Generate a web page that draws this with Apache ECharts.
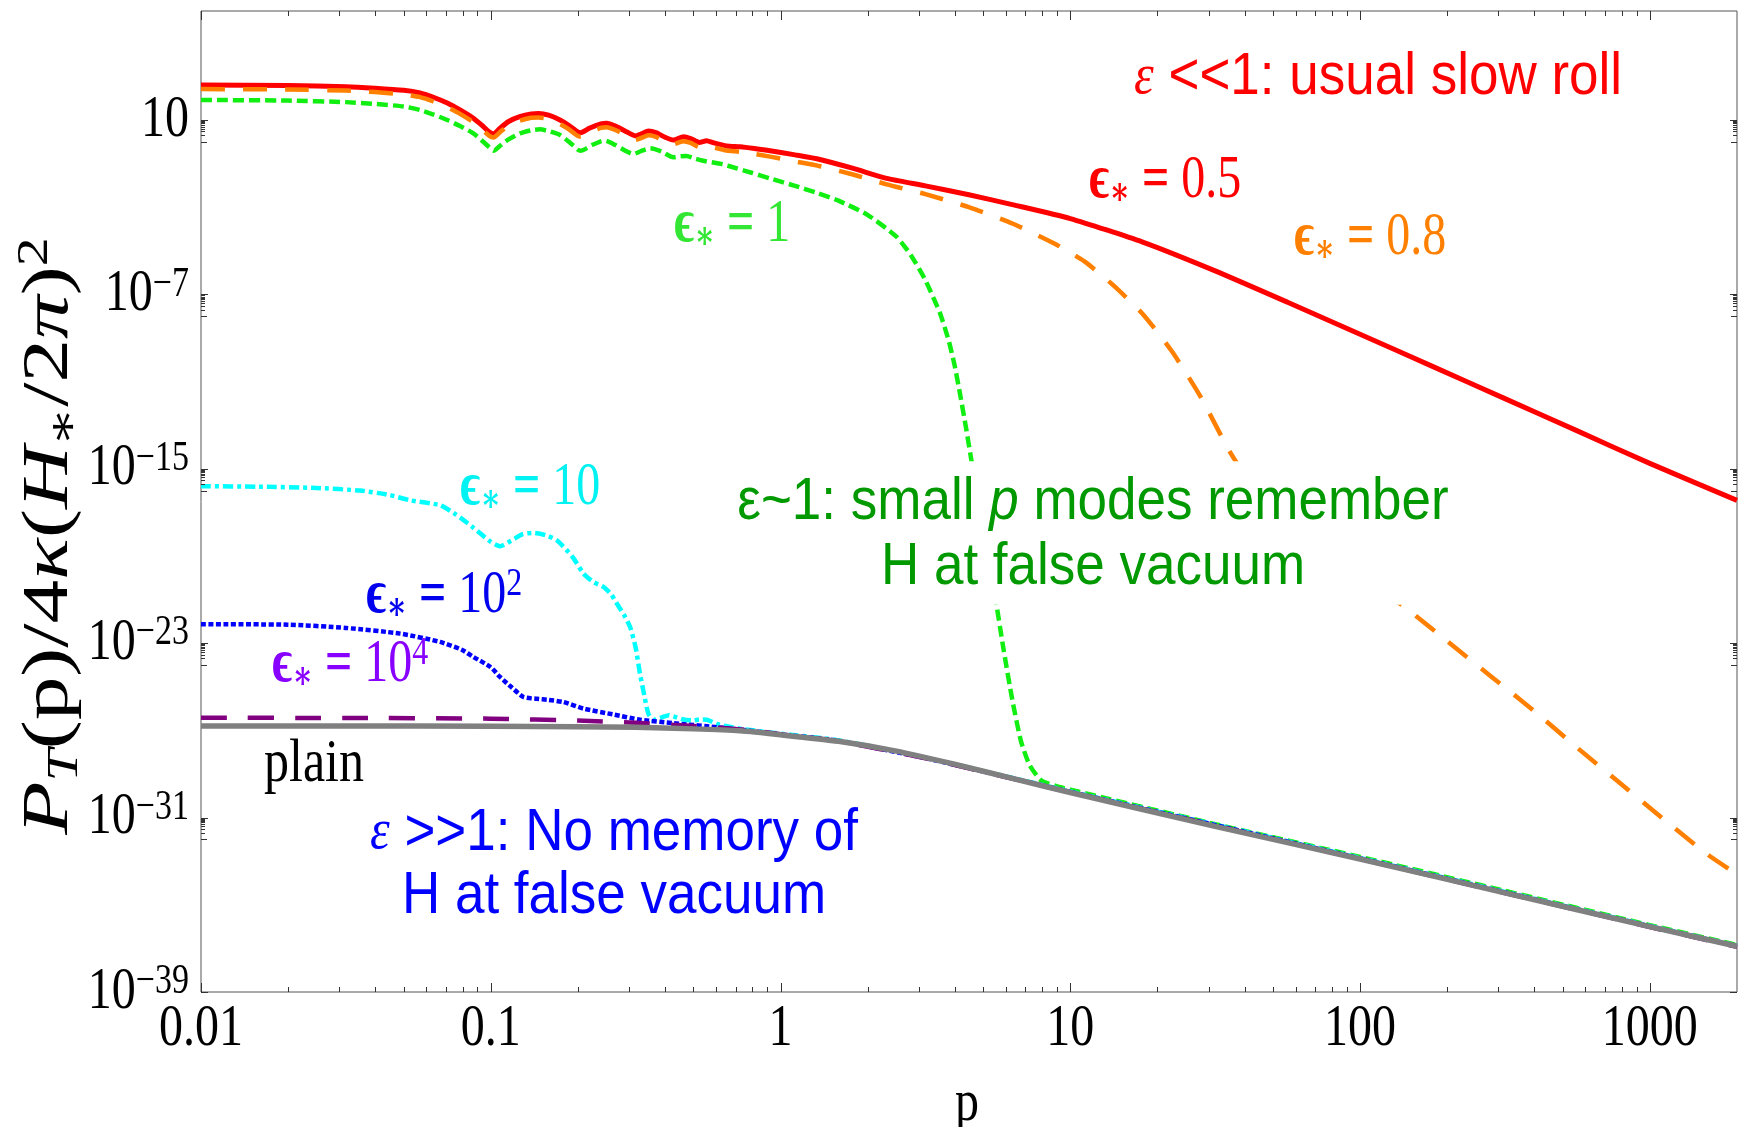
<!DOCTYPE html>
<html><head><meta charset="utf-8">
<script src="https://cdn.jsdelivr.net/npm/echarts@6/dist/echarts.min.js"></script>
<style>html,body{margin:0;padding:0;background:#fff}#chart{width:1739px;height:1127px}</style>
</head><body><div id="chart"></div>
<script>
// ---- data: pairs of [log10 p, log10 P_T] ----
const red = [[-2.0,2.60],[-1.7,2.58],[-1.5,2.53],[-1.4,2.46],[-1.3,2.36],[-1.244,2.24],[-1.2,2.05],[-1.15,1.78],[-1.106,1.46],[-1.06,1.08],[-1.03,0.75],[-1.005,0.45],[-0.99,0.36],[-0.97,0.6],[-0.94,0.92],[-0.9,1.15],[-0.86,1.28],[-0.835,1.30],[-0.80,1.22],[-0.761,1.0],[-0.73,0.75],[-0.70,0.45],[-0.69,0.42],[-0.66,0.62],[-0.62,0.82],[-0.60,0.85],[-0.57,0.72],[-0.53,0.45],[-0.50,0.27],[-0.48,0.36],[-0.456,0.49],[-0.43,0.42],[-0.40,0.22],[-0.37,0.08],[-0.345,0.19],[-0.335,0.23],[-0.31,0.15],[-0.28,-0.03],[-0.255,0.05],[-0.23,-0.05],[-0.186,-0.19],[-0.14,-0.23],[-0.09,-0.31],[-0.036,-0.41],[0.05,-0.6],[0.136,-0.81],[0.251,-1.22],[0.366,-1.68],[0.5,-2.02],[0.65,-2.43],[0.8,-2.88],[1.0,-3.52],[1.25,-4.6],[1.5,-5.92],[1.75,-7.36],[2.0,-8.83],[2.25,-10.3],[2.5,-11.78],[2.75,-13.26],[3.0,-14.75],[3.301,-16.45]];
const orange = [[-2.0,2.42],[-1.7,2.40],[-1.5,2.35],[-1.4,2.28],[-1.3,2.17],[-1.244,2.05],[-1.2,1.86],[-1.15,1.58],[-1.106,1.28],[-1.06,0.9],[-1.03,0.57],[-1.005,0.27],[-0.99,0.2],[-0.97,0.42],[-0.94,0.74],[-0.9,0.97],[-0.86,1.10],[-0.835,1.12],[-0.80,1.04],[-0.761,0.82],[-0.73,0.57],[-0.70,0.27],[-0.69,0.24],[-0.66,0.44],[-0.62,0.64],[-0.60,0.67],[-0.57,0.54],[-0.53,0.27],[-0.50,0.09],[-0.48,0.18],[-0.456,0.3],[-0.43,0.23],[-0.40,0.03],[-0.37,-0.12],[-0.345,0.0],[-0.335,0.03],[-0.31,-0.05],[-0.28,-0.24],[-0.255,-0.16],[-0.23,-0.26],[-0.186,-0.4],[-0.14,-0.46],[-0.09,-0.56],[-0.036,-0.68],[0.05,-0.9],[0.136,-1.12],[0.25,-1.5],[0.366,-1.95],[0.5,-2.4],[0.65,-3.0],[0.8,-3.75],[0.95,-4.7],[1.05,-5.5],[1.15,-6.6],[1.25,-7.9],[1.35,-9.6],[1.45,-11.7],[1.55,-14.2],[1.65,-16.2],[1.8,-18.2],[2.0,-20.0],[2.15,-21.3],[2.3,-22.9],[2.45,-24.5],[2.6,-26.1],[2.75,-27.8],[2.9,-29.45],[3.05,-31.1],[3.2,-32.7],[3.301,-33.6]];
const green = [[-2.0,1.92],[-1.7,1.89],[-1.5,1.82],[-1.4,1.74],[-1.3,1.62],[-1.244,1.46],[-1.2,1.26],[-1.15,1.0],[-1.106,0.72],[-1.06,0.39],[-1.03,0.05],[-1.005,-0.25],[-0.99,-0.41],[-0.97,-0.2],[-0.94,0.1],[-0.9,0.38],[-0.86,0.53],[-0.83,0.57],[-0.80,0.49],[-0.761,0.31],[-0.73,0.0],[-0.70,-0.35],[-0.69,-0.41],[-0.65,-0.15],[-0.62,0.02],[-0.605,0.05],[-0.57,-0.15],[-0.53,-0.45],[-0.508,-0.56],[-0.48,-0.42],[-0.45,-0.30],[-0.41,-0.45],[-0.37,-0.71],[-0.345,-0.66],[-0.324,-0.65],[-0.30,-0.75],[-0.267,-0.87],[-0.2,-1.03],[-0.151,-1.22],[-0.1,-1.42],[-0.036,-1.68],[0.05,-2.02],[0.12,-2.32],[0.2,-2.7],[0.3,-3.35],[0.4,-4.35],[0.45,-5.2],[0.5,-6.35],[0.55,-7.85],[0.58,-9.1],[0.6,-10.2],[0.62,-11.6],[0.64,-13.1],[0.66,-14.7],[0.7,-17.7],[0.74,-20.8],[0.77,-23.3],[0.80,-25.6],[0.83,-27.5],[0.86,-28.6],[0.9,-29.3],[0.95,-29.55],[1.0,-29.72],[1.5,-31.3],[2.0,-32.8],[2.5,-34.36],[3.0,-35.93],[3.301,-36.84]];
const cyan = [[-2.0,-15.8],[-1.8,-15.82],[-1.6,-15.88],[-1.45,-16.0],[-1.35,-16.2],[-1.277,-16.45],[-1.175,-16.67],[-1.12,-17.1],[-1.06,-17.7],[-1.0,-18.35],[-0.968,-18.55],[-0.93,-18.3],[-0.89,-18.0],[-0.853,-17.94],[-0.81,-18.05],[-0.772,-18.28],[-0.72,-19.0],[-0.68,-19.8],[-0.645,-20.2],[-0.611,-20.42],[-0.585,-20.75],[-0.565,-21.18],[-0.54,-21.7],[-0.519,-22.26],[-0.5,-23.2],[-0.485,-24.4],[-0.47,-25.4],[-0.456,-26.24],[-0.439,-26.51],[-0.41,-26.4],[-0.385,-26.3],[-0.37,-26.36],[-0.335,-26.5],[-0.301,-26.54],[-0.28,-26.5],[-0.255,-26.51],[-0.22,-26.7],[-0.186,-26.81],[-0.14,-26.92],[0,-27.15],[0.2,-27.45],[0.5,-28.25],[1.0,-29.8],[2.0,-32.85],[3.0,-35.97],[3.301,-36.88]];
const blue = [[-2.0,-22.13],[-1.7,-22.15],[-1.5,-22.3],[-1.313,-22.56],[-1.175,-22.94],[-1.1,-23.3],[-1.06,-23.63],[-1.0,-24.1],[-0.968,-24.55],[-0.93,-25.0],[-0.887,-25.47],[-0.841,-25.55],[-0.8,-25.6],[-0.749,-25.7],[-0.68,-26.0],[-0.577,-26.27],[-0.485,-26.51],[-0.37,-26.67],[-0.198,-26.88],[0,-27.18],[0.2,-27.48],[0.5,-28.27],[1.0,-29.82],[2.0,-32.87],[3.0,-35.99],[3.301,-36.9]];
const purple = [[-2.0,-26.42],[-1.5,-26.43],[-1.0,-26.46],[-0.7,-26.55],[-0.5,-26.65],[-0.3,-26.8],[-0.1,-27.0],[0,-27.18],[0.2,-27.5],[0.5,-28.28],[1.0,-29.84],[2.0,-32.9],[3.0,-36.02],[3.301,-36.93]];
const plain = [[-2.0,-26.8],[-1.5,-26.8],[-1.0,-26.81],[-0.7,-26.83],[-0.5,-26.86],[-0.3,-26.93],[-0.14,-27.02],[0,-27.2],[0.2,-27.5],[0.4,-27.95],[0.6,-28.55],[0.8,-29.2],[1.0,-29.85],[1.5,-31.4],[2.0,-32.9],[2.5,-34.45],[3.0,-36.0],[3.301,-36.9]];

// ---- axes / ticks ----
const X_MIN = -2, X_MAX = Math.log10(2000), Y_MIN = -39, Y_MAX = 6;
const xTickExps = [-2, -1, 0, 1, 2, 3];
const xTickLabels = ['0.01', '0.1', '1', '10', '100', '1000'];
const yTickExps = [-39, -31, -23, -15, -7, 1];
const minorMult = [2, 3, 4, 5, 6, 7, 8, 9];

const SERIF = "'Liberation Serif','Times New Roman','DejaVu Serif',serif";
const SANS = "'Liberation Sans',Arial,sans-serif";
const MINUS = '\u2212';
const TEXT_STRETCH = 1.24;

const ticks = [];
xTickExps.forEach(d => {
  ticks.push({axis: 'x', v: d, len: 9});
  minorMult.forEach(k => { const v = d + Math.log10(k); if (v < X_MAX - 1e-6) ticks.push({axis: 'x', v: v, len: 5}); });
});
yTickExps.forEach(d => {
  ticks.push({axis: 'y', v: d, len: 7});
  if (d - 1 >= Y_MIN) {
    ticks.push({axis: 'y', v: d - 1, len: 6});
    minorMult.forEach(k => ticks.push({axis: 'y', v: d - 1 + Math.log10(k), len: 4}));
  }
});

const tickLabels = [];
xTickExps.forEach((d, i) => tickLabels.push({axis: 'x', v: d, text: xTickLabels[i]}));
yTickExps.forEach(d => tickLabels.push({axis: 'y', v: d, text: d === 1 ? '{b|10}' : '{b|10}{s|' + (d < 0 ? MINUS : '') + Math.abs(d) + '}'}));

function lineSeries(name, data, color, width, type, z) {
  return {
    name: name, type: 'line', data: data, showSymbol: false, symbol: 'none',
    smooth: 0.2, z: z, animation: false, silent: true,
    lineStyle: {color: color, width: width, type: type, cap: 'butt', join: 'round'}
  };
}

const labelRich = (color) => ({
  e: {fontFamily: SERIF, fontSize: 48, fontWeight: 'bold', fill: color, lineHeight: 50},
  st: {fontFamily: SERIF, fontSize: 30, fontWeight: 'bold', fill: color, lineHeight: 26, verticalAlign: 'bottom'},
  q: {fontFamily: SERIF, fontSize: 48, fontWeight: 'bold', fill: color, lineHeight: 50},
  r: {fontFamily: SERIF, fontSize: 48, fill: color, lineHeight: 50},
  sup: {fontFamily: SERIF, fontSize: 32, fill: color, lineHeight: 22, verticalAlign: 'top'}
});
function seriesLabel(x, y, color, valueText) {
  return {
    type: 'text', x: x, y: y, z: 100, scaleY: 1.28,
    style: {
      text: '{e|\u03f5}{st|\u2217}{q| = }' + valueText,
      rich: labelRich(color), fill: color,
      align: 'left', verticalAlign: 'middle'
    }
  };
}

const chart = echarts.init(document.getElementById('chart'), null, {renderer: 'canvas'});
chart.setOption({
  backgroundColor: '#fff',
  animation: false,
  grid: {left: 201, right: 2, top: 11, bottom: 135, show: true, borderColor: '#555', borderWidth: 1, backgroundColor: 'transparent', containLabel: false, outerBoundsMode: 'none'},
  xAxis: {
    type: 'value', min: X_MIN, max: X_MAX, interval: 1,
    axisLine: {show: false}, axisTick: {show: false}, splitLine: {show: false}, axisLabel: {show: false}
  },
  yAxis: {
    type: 'value', min: Y_MIN, max: Y_MAX, interval: 8,
    axisLine: {show: false}, axisTick: {show: false}, splitLine: {show: false}, axisLabel: {show: false}
  },
  series: [
    lineSeries('eps0.5', red, '#ff0000', 5, 'solid', 2),
    lineSeries('eps0.8', orange, '#ff8000', 4.5, [24, 18], 3),
    lineSeries('eps1', green, '#11ee11', 4.5, [11, 5], 4),
    lineSeries('eps10', cyan, '#00ffff', 4.5, [10, 4, 4, 4], 5),
    lineSeries('eps100', blue, '#0000ff', 4.5, [5, 2.5], 6),
    lineSeries('eps1e4', purple, '#800080', 4.5, [26, 21], 7),
    lineSeries('plain', plain, '#808080', 5.5, 'solid', 8),
    {
      type: 'custom', name: 'ticks', silent: true, clip: false, z: 20, animation: false,
      data: ticks.map(t => t.axis === 'x' ? [t.v, Y_MIN] : [X_MIN, t.v]),
      renderItem: (params, api) => {
        const t = ticks[params.dataIndex];
        const c0 = api.coord([X_MIN, Y_MIN]), c1 = api.coord([X_MAX, Y_MAX]);
        let segs;
        if (t.axis === 'x') {
          const px = Math.round(api.coord([t.v, Y_MIN])[0]) + 0.5;
          segs = [[px, c0[1], px, c0[1] - t.len], [px, c1[1], px, c1[1] + t.len]];
        } else {
          const py = Math.round(api.coord([X_MIN, t.v])[1]) + 0.5;
          segs = [[c0[0], py, c0[0] + t.len, py], [c1[0], py, c1[0] - t.len, py]];
        }
        return {type: 'group', children: segs.map(s => ({type: 'line', shape: {x1: s[0], y1: s[1], x2: s[2], y2: s[3]}, style: {stroke: '#333', lineWidth: 1}}))};
      }
    },
    {
      type: 'custom', name: 'tickLabels', silent: true, clip: false, z: 20, animation: false,
      data: tickLabels.map(t => t.axis === 'x' ? [t.v, Y_MIN] : [X_MIN, t.v]),
      renderItem: (params, api) => {
        const L = tickLabels[params.dataIndex];
        const c0 = api.coord([X_MIN, Y_MIN]);
        if (L.axis === 'x') {
          const px = api.coord([L.v, Y_MIN])[0];
          return {type: 'text', x: px, y: c0[1] + 37, scaleY: TEXT_STRETCH,
            style: {text: L.text, font: '48px ' + SERIF, fill: '#000', align: 'center', verticalAlign: 'middle'}};
        }
        const py = api.coord([X_MIN, L.v])[1];
        return {type: 'text', x: c0[0] - 12, y: py, scaleY: TEXT_STRETCH,
          style: {text: L.text, fill: '#000', align: 'right', verticalAlign: 'middle',
            rich: {
              b: {fontFamily: SERIF, fontSize: 48, lineHeight: 50, fill: '#000'},
              s: {fontFamily: SERIF, fontSize: 34, lineHeight: 24, verticalAlign: 'top', fill: '#000'}
            }}};
      }
    }
  ],
  graphic: [
    // axis titles
    {type: 'text', x: 967, y: 1104, z: 100, scaleY: TEXT_STRETCH, style: {text: 'p', font: '48px ' + SERIF, fill: '#000', align: 'center', verticalAlign: 'middle'}},
    {type: 'text', x: 50, y: 536, rotation: Math.PI / 2, scaleX: 1.32, z: 100, style: {
      text: '{i|P}{sub|T}{r|(p)/4}{i|\u03ba}{r|(}{i|H}{sub|\u2217}{r|/2}{i|\u03c0}{r|)}{sup|2}',
      align: 'center', verticalAlign: 'middle', fill: '#000',
      rich: {
        i: {fontFamily: SERIF, fontStyle: 'italic', fontSize: 66, lineHeight: 74, fill: '#000'},
        r: {fontFamily: SERIF, fontSize: 66, lineHeight: 74, fill: '#000'},
        sub: {fontFamily: SERIF, fontStyle: 'italic', fontSize: 44, lineHeight: 40, verticalAlign: 'bottom', fill: '#000'},
        sup: {fontFamily: SERIF, fontSize: 44, lineHeight: 30, verticalAlign: 'top', fill: '#000'}
      }
    }},
    // region annotations
    {type: 'text', x: 1134, y: 78, z: 100, scaleY: 1.12, style: {
      text: '{e|\u03b5}{t| <<1: usual slow roll}', align: 'left', verticalAlign: 'middle', fill: '#ff0000',
      rich: {e: {fontFamily: SERIF, fontStyle: 'italic', fontSize: 50, fill: '#ff0000'}, t: {fontFamily: SANS, fontSize: 53, fill: '#ff0000'}}
    }},
    {type: 'text', x: 1093, y: 533, z: 100, scaleY: 1.12, style: {
      text: '{t|\u03b5~1: small }{i|p}{t| modes remember}\n{t|H at false vacuum}', align: 'center', verticalAlign: 'middle', fill: '#009900',
      backgroundColor: '#fff', padding: [8, 10, 4, 10],
      rich: {t: {fontFamily: SANS, fontSize: 53, lineHeight: 58, fill: '#009900'}, i: {fontFamily: SANS, fontStyle: 'italic', fontSize: 53, lineHeight: 58, fill: '#009900'}}
    }},
    {type: 'text', x: 614, y: 865, z: 100, scaleY: 1.12, style: {
      text: '{e|\u03b5}{t| >>1: No memory of}\n{t|H at false vacuum}', align: 'center', verticalAlign: 'middle', fill: '#0000ff',
      rich: {e: {fontFamily: SERIF, fontStyle: 'italic', fontSize: 50, lineHeight: 56, fill: '#0000ff'}, t: {fontFamily: SANS, fontSize: 53, lineHeight: 56, fill: '#0000ff'}}
    }},
    // curve labels
    seriesLabel(1089, 181, '#ff0000', '{r|0.5}'),
    seriesLabel(1294, 238, '#ff8000', '{r|0.8}'),
    seriesLabel(674, 225, '#33e633', '{r|1}'),
    seriesLabel(460, 488, '#00f2f2', '{r|10}'),
    seriesLabel(366, 596, '#0000ee', '{r|10}{sup|2}'),
    seriesLabel(272, 665, '#8800ff', '{r|10}{sup|4}'),
    {type: 'text', x: 264, y: 765, z: 100, scaleY: TEXT_STRETCH, style: {text: 'plain', font: '50px ' + SERIF, fill: '#000', align: 'left', verticalAlign: 'middle'}}
  ]
});
</script></body></html>
